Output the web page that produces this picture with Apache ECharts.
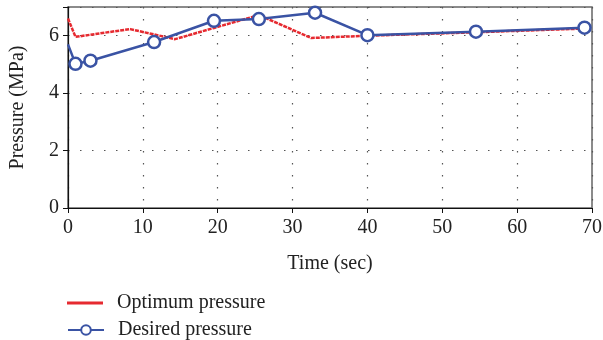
<!DOCTYPE html>
<html><head><meta charset="utf-8">
<script src="https://cdn.jsdelivr.net/npm/echarts@6/dist/echarts.min.js"></script>
<style>html,body{margin:0;padding:0;background:#fff}#c{width:603px;height:340px}</style>
</head><body><div id="c"></div>
<script>
const optTime = [0, 1, 8.3, 14.3, 19.5, 25.5, 32.5, 40, 54.5, 69];
const optPressure = [6.6, 5.96, 6.23, 5.88, 6.27, 6.72, 5.92, 6.0, 6.12, 6.25];
const desTime = [0, 1, 3, 11.5, 19.5, 25.5, 33, 40, 54.5, 69];
const desPressure = [5.7, 5.02, 5.13, 5.78, 6.52, 6.58, 6.8, 6.02, 6.14, 6.28];
const xTicks = [0, 10, 20, 30, 40, 50, 60, 70];
const yTicks = [0, 2, 4, 6];
const font = 'Liberation Serif';
const red = '#e62a30';
const blue = '#3a53a4';
const chart = echarts.init(document.getElementById('c'));
const legendText = {fontFamily: font, fontSize: 20, color: '#222', padding: [0, 0, 0, 9]};
chart.setOption({
  animation: false,
  textStyle: {fontFamily: font},
  grid: {left: 68, right: 11, top: 7, bottom: 132, show: true, borderColor: '#666', borderWidth: 1.5,
         containLabel: false, outerBoundsMode: 'none'},
  legend: [
    {left: 62, top: 288, itemWidth: 36, itemHeight: 3, textStyle: legendText,
     data: [{name: 'Optimum pressure', icon: 'rect'}]},
    {left: 62, top: 315, itemWidth: 36, itemHeight: 12, textStyle: legendText,
     data: ['Desired pressure']}
  ],
  xAxis: {
    type: 'value', min: 0, max: 70, interval: 10,
    name: 'Time (sec)', nameLocation: 'middle', nameGap: 46,
    nameTextStyle: {fontFamily: font, fontSize: 20, color: '#222'},
    axisLine: {show: true, onZero: false, lineStyle: {color: '#111', width: 1.2}},
    axisTick: {show: true, length: 5, lineStyle: {color: '#111'}},
    axisLabel: {fontFamily: font, fontSize: 20, color: '#222', margin: 10,
      formatter: v => xTicks.includes(v) ? String(v) : ''},
    splitLine: {show: true, lineStyle: {color: '#555', type: [1.5, 10.5], width: 1.2}}
  },
  yAxis: {
    type: 'value', min: 0, max: 7, interval: 2,
    name: 'Pressure (MPa)', nameLocation: 'middle', nameGap: 40,
    nameTextStyle: {fontFamily: font, fontSize: 20, color: '#222'},
    axisLine: {show: true, lineStyle: {color: '#111', width: 1.2}},
    axisTick: {show: true, length: 5, lineStyle: {color: '#111'}},
    axisLabel: {fontFamily: font, fontSize: 20, color: '#222', margin: 9,
      formatter: v => yTicks.includes(v) ? String(v) : ''},
    splitLine: {show: true, lineStyle: {color: '#555', type: [1.5, 10.5], width: 1.2}}
  },
  series: [
    {
      name: 'Optimum pressure', type: 'line', symbol: 'none',
      lineStyle: {color: red, width: 2.5, type: [4, 1]},
      itemStyle: {color: red},
      data: optTime.map((t, i) => [t, optPressure[i]]),
      z: 2
    },
    {
      name: 'Desired pressure', type: 'line', symbol: 'circle', symbolSize: 12,
      lineStyle: {color: blue, width: 2.5},
      itemStyle: {color: '#fff', borderColor: blue, borderWidth: 2.5},
      data: desTime.map((t, i) => i === 0 ? {value: [t, desPressure[i]], symbol: 'none'} : [t, desPressure[i]]),
      z: 3
    }
  ]
});
</script></body></html>
